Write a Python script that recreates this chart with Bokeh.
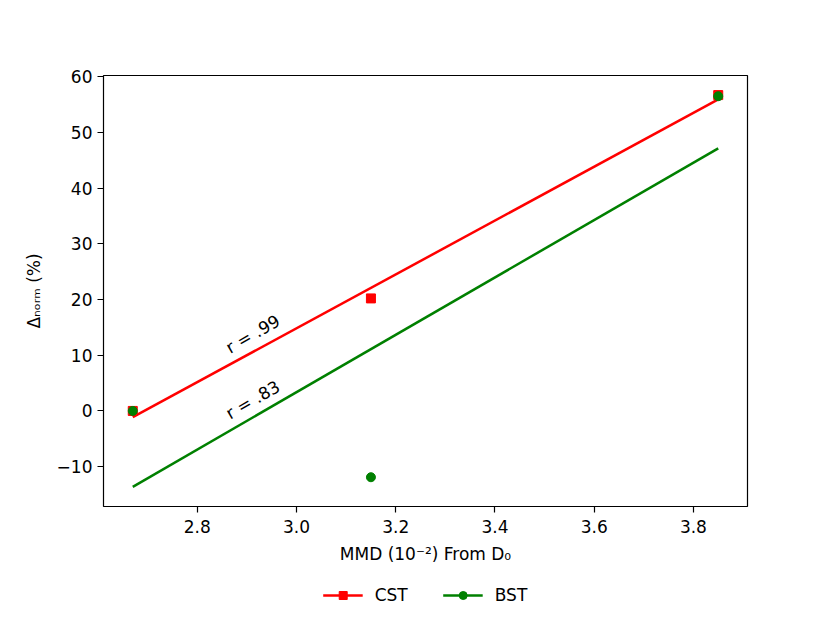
import numpy as np
from bokeh.plotting import figure
from bokeh.layouts import column
from bokeh.models import (Range1d, FixedTicker, CustomJSTickFormatter, Legend, LegendItem,
                          ColumnDataSource)
from bokeh.embed import file_html
from bokeh.resources import INLINE
from bokeh.core.properties import value

# ---- data ----
mmd = [2.67, 3.15, 3.85]
cst = [0.0, 20.2, 56.7]
bst = [0.0, -11.9, 56.5]
series_names = ["CST", "BST"]
r_labels = ["r = .99", "r = .83"]
r_label_x = [2.912, 2.912]
r_label_y = [13.8, 2.0]
x_ticks = [2.8, 3.0, 3.2, 3.4, 3.6, 3.8]
y_ticks = [-10, 0, 10, 20, 30, 40, 50, 60]

FONT = "DejaVu Sans"
FS = "17px"

x = np.array(mmd)
c_fit = np.polyfit(x, cst, 1)
b_fit = np.polyfit(x, bst, 1)
xf = np.array([x.min(), x.max()])
c_line = np.polyval(c_fit, xf)
b_line = np.polyval(b_fit, xf)

allx = list(mmd)
ally = list(cst) + list(bst) + list(c_line) + list(b_line)
xpad = 0.05 * (max(allx) - min(allx))
ypad = 0.05 * (max(ally) - min(ally))

p = figure(frame_width=644, frame_height=431, output_backend="svg", toolbar_location=None,
           x_range=Range1d(min(allx) - xpad, max(allx) + xpad),
           y_range=Range1d(min(ally) - ypad, max(ally) + ypad),
           min_border_left=103, min_border_right=83, min_border_top=75, min_border_bottom=70)
p.background_fill_color = "white"
p.border_fill_color = "white"
p.outline_line_color = "black"
p.outline_line_width = 1.2
p.grid.visible = False

for ax in (p.xaxis[0], p.yaxis[0]):
    ax.axis_line_color = None
    ax.major_tick_line_color = "black"
    ax.major_tick_line_width = 1.2
    ax.major_tick_in = 0
    ax.major_tick_out = 6
    ax.minor_tick_line_color = None
    ax.major_label_text_font = FONT
    ax.major_label_text_font_size = FS
    ax.major_label_text_color = "black"
    ax.axis_label_text_font = FONT
    ax.axis_label_text_font_size = "17px"
    ax.axis_label_text_font_style = "normal"
    ax.axis_label_text_color = "black"

p.xaxis.ticker = FixedTicker(ticks=x_ticks)
p.yaxis.ticker = FixedTicker(ticks=y_ticks)
p.xaxis.formatter = CustomJSTickFormatter(code="return tick.toFixed(1);")
p.yaxis.formatter = CustomJSTickFormatter(
    code="return tick < 0 ? '\u2212' + Math.abs(tick).toFixed(0) : tick.toFixed(0);")
p.xaxis.major_label_standoff = 7
p.yaxis.major_label_standoff = 5
p.xaxis.axis_label = "MMD (10\u207b\u00b2) From D\u2080"
p.yaxis.axis_label = "\u0394\u2099\u2092\u1d63\u2098 (%)"
p.xaxis.axis_label_standoff = 8
p.yaxis.axis_label_standoff = 10

# fit lines
p.line(xf, c_line, line_color="red", line_width=2.5)
p.line(xf, b_line, line_color="green", line_width=2.5)
# points
p.scatter(mmd, cst, marker="square", size=9, fill_color="red", line_color="red")
p.scatter(mmd, bst, marker="circle", size=9, fill_color="green", line_color="green")

# r annotations
src = ColumnDataSource(dict(x=r_label_x, y=r_label_y, t=r_labels))
p.text(x="x", y="y", text="t", source=src, angle=30, angle_units="deg",
       text_align="center", text_baseline="middle", text_font=value(FONT),
       text_font_size=FS, text_color="black")

# legend strip (separate figure below; its series renderers lie outside its view range,
# so only the legend swatches show)
pl = figure(frame_width=644, frame_height=38, output_backend="svg", toolbar_location=None,
            x_range=Range1d(0, 1), y_range=Range1d(0, 1),
            x_axis_type=None, y_axis_type=None,
            min_border_left=103, min_border_right=83, min_border_top=0, min_border_bottom=0)
pl.outline_line_color = None
pl.grid.visible = False
pl.background_fill_color = "white"
pl.border_fill_color = "white"
items = []
for name, ys, col, mk in zip(series_names, [cst, bst], ["red", "green"], ["square", "circle"]):
    r1 = pl.line(x=mmd, y=ys, line_color=col, line_width=2.5)
    r2 = pl.scatter(x=mmd, y=ys, marker=mk, size=12, fill_color=col, line_color=col)
    items.append(LegendItem(label=name, renderers=[r1, r2]))
legend = Legend(items=items, orientation="horizontal", location="center",
                border_line_color=None, background_fill_alpha=0,
                label_text_font=FONT, label_text_font_size=FS, label_text_color="black",
                glyph_width=40, glyph_height=20, label_standoff=12, spacing=35,
                padding=2, margin=0)
pl.add_layout(legend, "center")

layout = column(p, pl, spacing=0)
open("out.html", "w").write(file_html(layout, INLINE))
